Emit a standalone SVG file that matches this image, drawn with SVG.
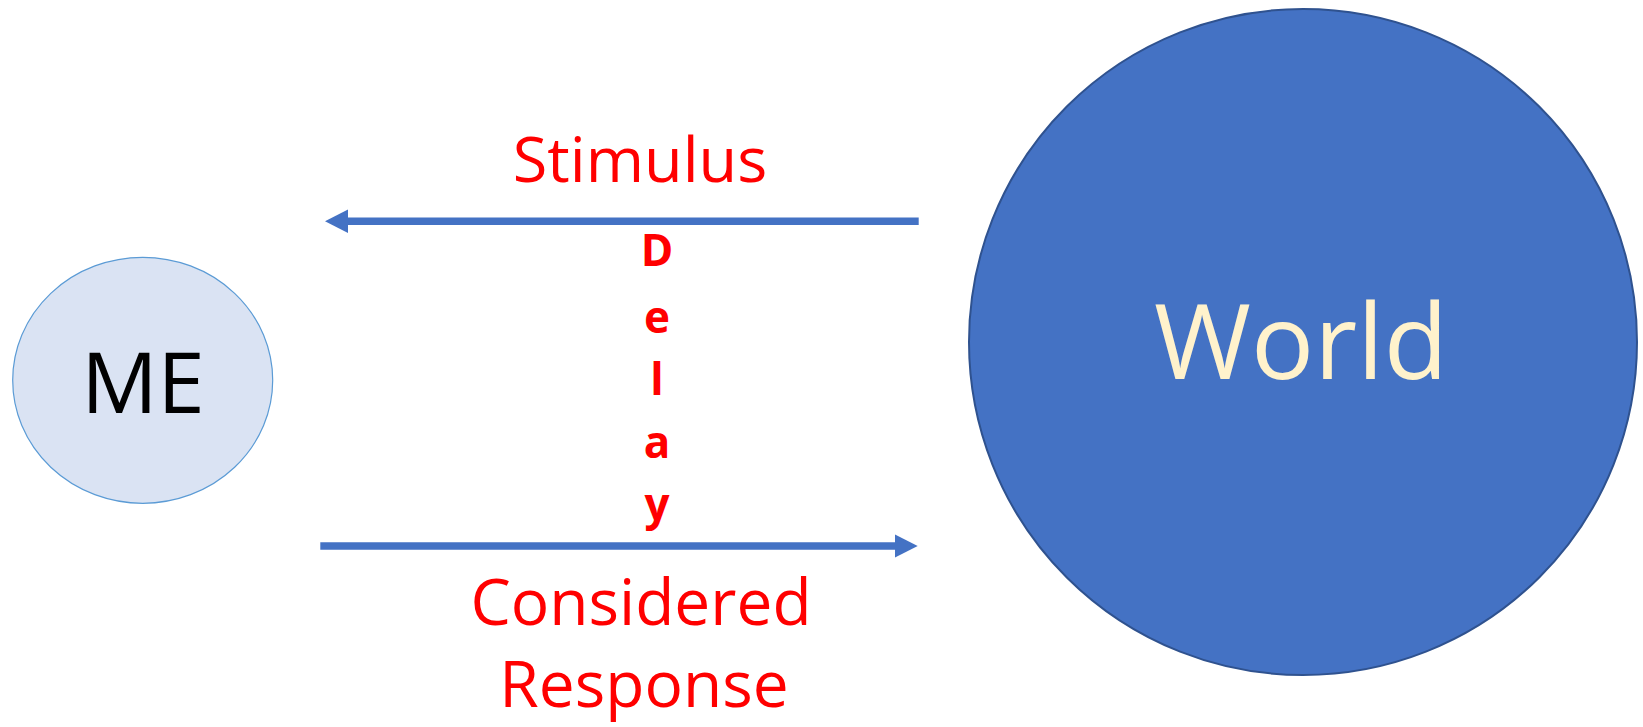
<svg xmlns="http://www.w3.org/2000/svg" width="1643" height="727" viewBox="0 0 1643 727">
  <style>
    .lbl { font-family: "Open Sans", "Liberation Sans", sans-serif; fill: #FF0000; text-anchor: middle; }
    .delay { font-family: "Open Sans", "Liberation Sans", sans-serif; font-weight: bold; font-size: 44px; fill: #FF0000; text-anchor: middle; }
    .conn { stroke: #4472C4; stroke-width: 7.5; fill: none; }
  </style>
  <defs>
    <marker id="head" markerUnits="userSpaceOnUse" markerWidth="24" markerHeight="24" viewBox="0 0 24 24" refX="3" refY="11.7" orient="auto">
      <path d="M0,0 L23,11.7 L0,23.4 z" fill="#4472C4"/>
    </marker>
  </defs>
  <rect width="1643" height="727" fill="#FFFFFF"/>

  <g id="me">
    <ellipse cx="142.7" cy="380.3" rx="130" ry="123" fill="#DAE3F3" stroke="#5B9BD5" stroke-width="1.2"/>
    <text x="143" y="413" font-family="'Open Sans', 'Liberation Sans', sans-serif" font-size="85" fill="#000000" text-anchor="middle">ME</text>
  </g>

  <g id="world">
    <ellipse cx="1303" cy="342" rx="334" ry="333" fill="#4472C4" stroke="#2F528F" stroke-width="2"/>
    <text x="1301" y="379" font-family="'Open Sans', 'Liberation Sans', sans-serif" font-size="105" fill="#FFF2CC" text-anchor="middle">World</text>
  </g>

  <g id="connectors">
    <line class="conn" x1="918.7" y1="221.3" x2="345" y2="221.3" marker-end="url(#head)"/>
    <line class="conn" x1="320.3" y1="546" x2="897.7" y2="546" marker-end="url(#head)"/>
  </g>

  <g id="labels">
    <text class="lbl" x="640" y="182" font-size="63">Stimulus</text>
    <text class="lbl" x="641" y="625" font-size="64">Considered</text>
    <text class="lbl" x="644" y="707" font-size="64">Response</text>
    <g id="delay">
      <text class="delay" x="657" y="266">D</text>
      <text class="delay" x="657" y="333">e</text>
      <text class="delay" x="657" y="395">l</text>
      <text class="delay" x="657" y="458">a</text>
      <text class="delay" x="657" y="520">y</text>
    </g>
  </g>
</svg>
